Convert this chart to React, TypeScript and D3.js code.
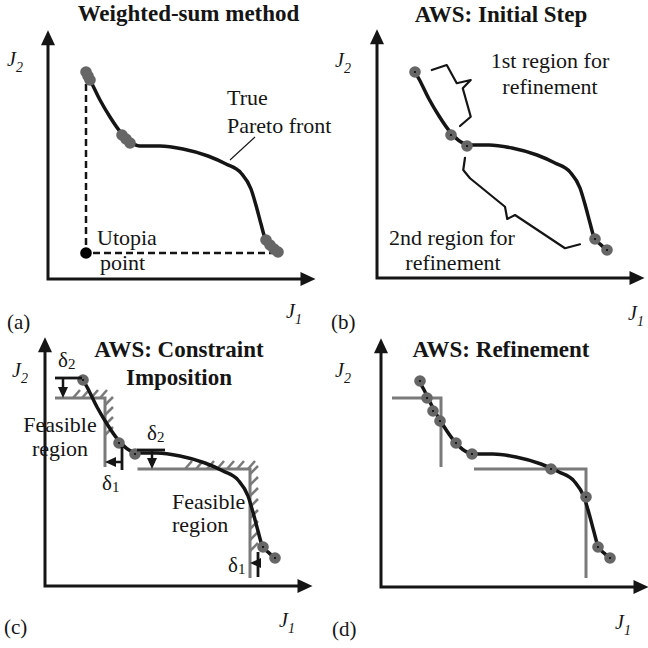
import React from 'react';
import * as d3 from 'd3';

type P = [number, number];

// ---- Data (J1, J2 in arbitrary objective units, 0..100) ----
const curveJ1 = [15.2, 16.8, 20.8, 24.8, 29.6, 33.6, 36.8, 44.8, 54, 64, 71.2, 77.2, 81.2, 83.6, 85.2, 86.8, 89.2, 92];
const curveJ2 = [82.4, 79.6, 71.6, 64.8, 58, 54.4, 53.2, 53.2, 52, 49.2, 46, 42.4, 36, 28, 22, 16.4, 13.6, 11.2];

// weighted-sum clustered solutions
const wsJ1 = [15.2, 16, 16.8, 29.6, 31.2, 32.8, 87.2, 88.8, 90.4, 92];
const wsJ2 = [82.8, 81.2, 79.6, 57.6, 56, 54.4, 15.6, 13.6, 12, 10.8];
const utopia: P = [15.2, 10.4];
const utopiaEndJ1 = 93.6;
const leader: P[] = [[82.8, 56.8], [72.8, 47.6]];

// AWS initial solutions
const initJ1 = [15.2, 29.6, 36, 87.2, 92];
const initJ2 = [82.4, 57.2, 52.8, 15.6, 11.2];

// AWS refined solutions
const refJ1 = [15.6, 18.4, 20.8, 23.6, 30, 36.4, 68, 82, 86.8, 91.6];
const refJ2 = [82.4, 75.6, 70.4, 66.4, 57.6, 53.2, 47.2, 36, 16, 11.6];

// braces (b)
const brace1: P[] = [[21.9, 83.2], [27.9, 85.2], [31.9, 77.9], [37.5, 79.2], [34.3, 75.9], [37.5, 64.5], [33.2, 60.8]];
const brace2: P[] = [[35.2, 48.1], [34.5, 43.2], [37.2, 39.9], [51.2, 28.5], [52.1, 23.6], [55.2, 25.2], [75.2, 11.9], [81.2, 13.5]];

// constraints (c, d)
const constraint1: P[] = [[4, 75.2], [24, 75.2], [24, 47.6]];
const constraint2: P[] = [[37, 46.8], [82, 46.8], [82, 3.2]];
const hatch1Top = [11.2, 14.8, 18.4, 22];
const hatch1Side = [72.4, 68.4, 64.4, 60.4];
const hatch2Top = [56, 60.4, 64.8, 68.8, 72.8, 76.8, 81.2];
const hatch2Side = [44.8, 40.4, 36, 31.6, 27.2, 22.8, 18.4, 14];

// delta markers: bar [from,to], arrow [from,to]
const d2aBar: P[] = [[4, 83.2], [14.8, 83.2]];
const d2aArrow: P[] = [[7.2, 83.2], [7.2, 75.2]];
const d1aBar: P[] = [[30.8, 46.4], [30.8, 55.6]];
const d1aArrow: P[] = [[30.8, 49.6], [24, 49.6]];
const d2bBar: P[] = [[36.8, 54.4], [48, 54.4]];
const d2bArrow: P[] = [[42.8, 54.4], [42.8, 46.8]];
const d1bBar: P[] = [[85.2, 3.6], [85.2, 13.6]];
const d1bArrow: P[] = [[85.2, 9.2], [82, 9.2]];

// text labels
const titles = ['Weighted-sum method', 'AWS: Initial Step', 'AWS: Constraint', 'AWS: Refinement'];
const panelTags = ['(a)', '(b)', '(c)', '(d)'];

// layout (pixel origins of each panel)
const origins: P[] = [[48, 279], [377, 278], [45, 586], [381, 587]];
const titlePos: P[] = [[56.2, 103.2], [49.6, 102.4], [53.6, 91.6], [48, 92]];
const j2Pos: P[] = [[-16.4, 85.2], [-16.8, 84.4], [-13.2, 83.6], [-18.4, 84]];
const j1Pos: P[] = [[95.2, -15.6], [100.4, -16.8], [93.6, -16.4], [93.6, -16.8]];
const tagPos: P[] = [[-16.4, -20], [-18.4, -20.4], [-16.4, -19.2], [-19.6, -19.6]];
const xAxisEnd = 107;
const yAxisEnd = 99.5;

const FONT = '"Liberation Serif", "Times New Roman", serif';
const INK = '#151515';
const GRAY = '#7a7a7a';
const DOT = '#666666';

const zip = (a: number[], b: number[]): P[] => a.map((v, i) => [v, b[i]]);

function scales(o: P) {
  const x = d3.scaleLinear().domain([0, 100]).range([o[0], o[0] + 250]);
  const y = d3.scaleLinear().domain([0, 100]).range([o[1], o[1] - 250]);
  return { x, y };
}

type S = ReturnType<typeof scales>;

function Axes({ s }: { s: S }) {
  const x0 = s.x(0), y0 = s.y(0), xe = s.x(xAxisEnd), ye = s.y(yAxisEnd);
  return (
    <g>
      <path d={`M${x0},${ye + 12}L${x0},${y0}L${xe - 12},${y0}`} fill="none" stroke={INK} strokeWidth={3} strokeLinecap="square" />
      <polygon points={`${x0},${ye} ${x0 - 7},${ye + 15} ${x0 + 7},${ye + 15}`} fill={INK} />
      <polygon points={`${xe},${y0} ${xe - 15},${y0 - 7} ${xe - 15},${y0 + 7}`} fill={INK} />
    </g>
  );
}

function Labels({ s, i }: { s: S; i: number }) {
  return (
    <g fill={INK} fontFamily={FONT}>
      <text x={s.x(j2Pos[i][0])} y={s.y(j2Pos[i][1])} fontSize={20} fontStyle="italic">
        J<tspan fontSize={14} dy={6}>2</tspan>
      </text>
      <text x={s.x(j1Pos[i][0])} y={s.y(j1Pos[i][1])} fontSize={20} fontStyle="italic">
        J<tspan fontSize={14} dy={6}>1</tspan>
      </text>
      <text x={s.x(tagPos[i][0])} y={s.y(tagPos[i][1])} fontSize={21}>{panelTags[i]}</text>
    </g>
  );
}

function Curve({ s }: { s: S }) {
  const line = d3.line<P>().x(d => s.x(d[0])).y(d => s.y(d[1])).curve(d3.curveMonotoneX);
  return <path d={line(zip(curveJ1, curveJ2)) || ''} fill="none" stroke={INK} strokeWidth={3.5} strokeLinecap="round" />;
}

function Dots({ s, pts, center = true }: { s: S; pts: P[]; center?: boolean }) {
  return (
    <g>
      {pts.map((p, k) => (
        <g key={k}>
          <circle cx={s.x(p[0])} cy={s.y(p[1])} r={5.8} fill={DOT} />
          {center && <circle cx={s.x(p[0])} cy={s.y(p[1])} r={1} fill="#000" />}
        </g>
      ))}
    </g>
  );
}

function Arrow({ s, a }: { s: S; a: P[] }) {
  const x1 = s.x(a[0][0]), y1 = s.y(a[0][1]), x2 = s.x(a[1][0]), y2 = s.y(a[1][1]);
  const dx = x2 - x1, dy = y2 - y1;
  const len = Math.hypot(dx, dy) || 1;
  const ux = dx / len, uy = dy / len;
  const hl = 11, hw = 5;
  const bx = x2 - ux * hl, by = y2 - uy * hl;
  return (
    <g>
      <line x1={x1} y1={y1} x2={bx} y2={by} stroke={INK} strokeWidth={2.5} />
      <polygon points={`${x2},${y2} ${bx - uy * hw},${by + ux * hw} ${bx + uy * hw},${by - ux * hw}`} fill={INK} />
    </g>
  );
}

function Bar({ s, a }: { s: S; a: P[] }) {
  return <line x1={s.x(a[0][0])} y1={s.y(a[0][1])} x2={s.x(a[1][0])} y2={s.y(a[1][1])} stroke={INK} strokeWidth={2.8} />;
}

function Constraint({ s, c }: { s: S; c: P[] }) {
  const line = d3.line<P>().x(d => s.x(d[0])).y(d => s.y(d[1]));
  return <path d={line(c) || ''} fill="none" stroke={GRAY} strokeWidth={3} />;
}

function Hatches({ s, top, side, c }: { s: S; top: number[]; side: number[]; c: P[] }) {
  const hy = c[0][1];
  const vx = c[1][0];
  return (
    <g stroke={GRAY} strokeWidth={2.5}>
      {top.map((v, k) => {
        const px = s.x(v), py = s.y(hy);
        return <line key={'t' + k} x1={px} y1={py} x2={px + 7} y2={py - 8} />;
      })}
      {side.map((v, k) => {
        const px = s.x(vx), py = s.y(v);
        return <line key={'s' + k} x1={px} y1={py} x2={px + 8} y2={py - 8} />;
      })}
    </g>
  );
}

function Delta({ s, p, sub }: { s: S; p: P; sub: string }) {
  return (
    <text x={s.x(p[0])} y={s.y(p[1])} fontFamily={FONT} fontSize={21} fill={INK}>
      δ<tspan fontSize={15} dy={2}>{sub}</tspan>
    </text>
  );
}

function Txt({ s, p, t, anchor = 'start', size = 22, bold = false }: { s: S; p: P; t: string; anchor?: string; size?: number; bold?: boolean }) {
  return (
    <text x={s.x(p[0])} y={s.y(p[1])} fontFamily={FONT} fontSize={size} fontWeight={bold ? 'bold' : 'normal'} textAnchor={anchor as any} fill={INK}>
      {t}
    </text>
  );
}

function PanelA() {
  const s = scales(origins[0]);
  const i = 0;
  return (
    <g>
      <Axes s={s} />
      <Labels s={s} i={i} />
      <Txt s={s} p={titlePos[i]} t={titles[i]} anchor="middle" size={23} bold />
      <path
        d={`M${s.x(curveJ1[0])},${s.y(curveJ2[0])}L${s.x(utopia[0])},${s.y(utopia[1])}L${s.x(utopiaEndJ1)},${s.y(utopia[1])}`}
        fill="none" stroke={INK} strokeWidth={2.5} strokeDasharray="7 4"
      />
      <Curve s={s} />
      <Dots s={s} pts={zip(wsJ1, wsJ2)} center={false} />
      <circle cx={s.x(utopia[0])} cy={s.y(utopia[1])} r={5.8} fill="#000" />
      <line x1={s.x(leader[0][0])} y1={s.y(leader[0][1])} x2={s.x(leader[1][0])} y2={s.y(leader[1][1])} stroke={INK} strokeWidth={1.1} />
      <Txt s={s} p={[71.6, 69.6]} t="True" />
      <Txt s={s} p={[71.6, 58.4]} t="Pareto front" />
      <Txt s={s} p={[19.6, 13.6]} t="Utopia" />
      <Txt s={s} p={[20.8, 3.6]} t="point" />
    </g>
  );
}

function PanelB() {
  const s = scales(origins[1]);
  const i = 1;
  const line = d3.line<P>().x(d => s.x(d[0])).y(d => s.y(d[1]));
  return (
    <g>
      <Axes s={s} />
      <Labels s={s} i={i} />
      <Txt s={s} p={titlePos[i]} t={titles[i]} anchor="middle" size={23} bold />
      <Curve s={s} />
      <Dots s={s} pts={zip(initJ1, initJ2)} />
      <path d={line(brace1) || ''} fill="none" stroke={INK} strokeWidth={2.2} strokeLinejoin="round" strokeLinecap="round" />
      <path d={line(brace2) || ''} fill="none" stroke={INK} strokeWidth={2.2} strokeLinejoin="round" strokeLinecap="round" />
      <Txt s={s} p={[69.2, 84]} t="1st region for" anchor="middle" />
      <Txt s={s} p={[69.2, 73.6]} t="refinement" anchor="middle" />
      <Txt s={s} p={[30, 13.2]} t="2nd region for" anchor="middle" />
      <Txt s={s} p={[30.4, 3.2]} t="refinement" anchor="middle" />
    </g>
  );
}

function PanelC() {
  const s = scales(origins[2]);
  const i = 2;
  return (
    <g>
      <Txt s={s} p={[6, 61.6]} t="Feasible" anchor="middle" />
      <Txt s={s} p={[6, 52]} t="region" anchor="middle" />
      <Axes s={s} />
      <Labels s={s} i={i} />
      <Txt s={s} p={titlePos[i]} t={titles[i]} anchor="middle" size={23} bold />
      <Txt s={s} p={[titlePos[i][0], titlePos[i][1] - 11.2]} t="Imposition" anchor="middle" size={23} bold />
      <Constraint s={s} c={constraint1} />
      <Constraint s={s} c={constraint2} />
      <Hatches s={s} top={hatch1Top} side={hatch1Side} c={constraint1} />
      <Hatches s={s} top={hatch2Top} side={hatch2Side} c={constraint2} />
      <Curve s={s} />
      <Dots s={s} pts={zip(initJ1, initJ2)} />
      <Bar s={s} a={d2aBar} />
      <Arrow s={s} a={d2aArrow} />
      <Bar s={s} a={d1aBar} />
      <Arrow s={s} a={d1aArrow} />
      <Bar s={s} a={d2bBar} />
      <Arrow s={s} a={d2bArrow} />
      <Bar s={s} a={d1bBar} />
      <Arrow s={s} a={d1bArrow} />
      <Delta s={s} p={[5.2, 87.6]} sub="2" />
      <Delta s={s} p={[40.8, 58.4]} sub="2" />
      <Delta s={s} p={[22.8, 38.4]} sub="1" />
      <Delta s={s} p={[73.2, 5.6]} sub="1" />
      <Txt s={s} p={[50.8, 30.8]} t="Feasible" />
      <Txt s={s} p={[50.8, 21.6]} t="region" />
    </g>
  );
}

function PanelD() {
  const s = scales(origins[3]);
  const i = 3;
  return (
    <g>
      <Axes s={s} />
      <Labels s={s} i={i} />
      <Txt s={s} p={titlePos[i]} t={titles[i]} anchor="middle" size={23} bold />
      <Constraint s={s} c={[[4.4, 75.6], [24, 75.6], [24, 48]]} />
      <Constraint s={s} c={[[37.2, 47.2], [82, 47.2], [82, 3.6]]} />
      <Curve s={s} />
      <Dots s={s} pts={zip(refJ1, refJ2)} />
    </g>
  );
}

export default function App() {
  return (
    <svg width={648} height={648} style={{ position: 'absolute', left: 0, top: 0, background: '#fff' }}>
      <rect width={648} height={648} fill="#fff" />
      <PanelA />
      <PanelB />
      <PanelC />
      <PanelD />
    </svg>
  );
}
